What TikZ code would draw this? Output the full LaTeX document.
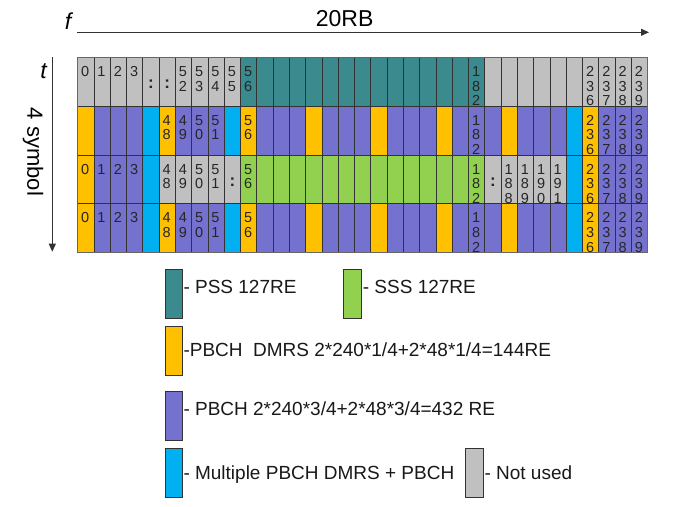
\documentclass[tikz,border=0pt]{standalone}
\usepackage{fontspec}
\setmainfont{Liberation Sans}
\usetikzlibrary{arrows.meta}
\definecolor{cgray}{RGB}{192,192,192}
\definecolor{cteal}{RGB}{58,138,142}
\definecolor{cpurple}{RGB}{117,113,207}
\definecolor{corange}{RGB}{255,192,0}
\definecolor{ccyan}{RGB}{0,176,240}
\definecolor{cgreen}{RGB}{146,208,80}
\newcommand\cellnum[3]{%
  \foreach \d [count=\i from 0] in {#3}
    \node[dig] (d#1-#2-\i) at ({77.7+#1*16.286+3.3},{57.3+#2*48.85+19+\i*14.7}) {\d};}
\newcommand\cellcolon[2]{%
  \node[colondot] (k#1-#2) at ({77.7+(#1+0.5)*16.286},{57.3+#2*48.85+31}) {:};}
\begin{document}
\begin{tikzpicture}[x=1pt,y=-1pt,
  dig/.style={anchor=base west,inner sep=0pt,font=\fontsize{14.5}{14.7}\selectfont,text=black!85},
  colondot/.style={anchor=base,inner sep=0pt,font=\fontsize{17}{17}\selectfont\bfseries,text=black!85},
  cellline/.style={draw=black!80,line width=0.8pt},
  axis/.style={draw=black!80,line width=1pt,-{Triangle[length=8pt,width=7pt]}},
  legbox/.style={draw=black!80,line width=0.8pt,minimum width=17.3pt,minimum height=49pt,inner sep=0pt},
  legtext/.style={anchor=base west,inner sep=0pt,font=\fontsize{19}{19}\selectfont,text=black!90},
  axlabel/.style={inner sep=0pt,font=\fontsize{23}{23}\selectfont\itshape}]
\fill[white] (0,0) rectangle (685,506);
\useasboundingbox (0,0) rectangle (685,506);
% cell fills
\foreach \r/\a/\b/\col in {
  0/0/9/cgray, 0/10/24/cteal, 0/25/34/cgray,
  1/0/0/corange, 1/1/3/cpurple, 1/4/4/ccyan, 1/5/5/corange, 1/6/8/cpurple, 1/9/9/ccyan,
  1/10/10/corange, 1/11/13/cpurple, 1/14/14/corange, 1/15/17/cpurple, 1/18/18/corange,
  1/19/21/cpurple, 1/22/22/corange, 1/23/25/cpurple, 1/26/26/corange, 1/27/29/cpurple,
  1/30/30/ccyan, 1/31/31/corange, 1/32/34/cpurple,
  2/0/0/corange, 2/1/3/cpurple, 2/4/4/ccyan, 2/5/9/cgray, 2/10/24/cgreen, 2/25/29/cgray,
  2/30/30/ccyan, 2/31/31/corange, 2/32/34/cpurple,
  3/0/0/corange, 3/1/3/cpurple, 3/4/4/ccyan, 3/5/5/corange, 3/6/8/cpurple, 3/9/9/ccyan,
  3/10/10/corange, 3/11/13/cpurple, 3/14/14/corange, 3/15/17/cpurple, 3/18/18/corange,
  3/19/21/cpurple, 3/22/22/corange, 3/23/25/cpurple, 3/26/26/corange, 3/27/29/cpurple,
  3/30/30/ccyan, 3/31/31/corange, 3/32/34/cpurple}
  \fill[\col] ({77.7+\a*16.286},{57.3+\r*48.85}) rectangle ({77.7+(\b+1)*16.286},{57.3+(\r+1)*48.85});
% grid lines
\foreach \c in {1,...,34}
  \draw[cellline] ({77.7+\c*16.286},57.3) -- ({77.7+\c*16.286},252.7);
\foreach \r in {1,2,3}
  \draw[cellline] (77.7,{57.3+\r*48.85}) -- (647.7,{57.3+\r*48.85});
\draw[draw=black!60,line width=1.2pt] (77.7,57.3) rectangle (647.7,252.7);
% row 0 labels
\cellnum{0}{0}{0}\cellnum{1}{0}{1}\cellnum{2}{0}{2}\cellnum{3}{0}{3}
\cellcolon{4}{0}\cellcolon{5}{0}
\cellnum{6}{0}{5,2}\cellnum{7}{0}{5,3}\cellnum{8}{0}{5,4}\cellnum{9}{0}{5,5}\cellnum{10}{0}{5,6}
\cellnum{24}{0}{1,8,2}
\cellnum{31}{0}{2,3,6}\cellnum{32}{0}{2,3,7}\cellnum{33}{0}{2,3,8}\cellnum{34}{0}{2,3,9}
% row 1 labels
\cellnum{5}{1}{4,8}\cellnum{6}{1}{4,9}\cellnum{7}{1}{5,0}\cellnum{8}{1}{5,1}\cellnum{10}{1}{5,6}
\cellnum{24}{1}{1,8,2}
\cellnum{31}{1}{2,3,6}\cellnum{32}{1}{2,3,7}\cellnum{33}{1}{2,3,8}\cellnum{34}{1}{2,3,9}
% row 2 labels
\cellnum{0}{2}{0}\cellnum{1}{2}{1}\cellnum{2}{2}{2}\cellnum{3}{2}{3}
\cellnum{5}{2}{4,8}\cellnum{6}{2}{4,9}\cellnum{7}{2}{5,0}\cellnum{8}{2}{5,1}\cellcolon{9}{2}
\cellnum{10}{2}{5,6}\cellnum{24}{2}{1,8,2}\cellcolon{25}{2}
\cellnum{26}{2}{1,8,8}\cellnum{27}{2}{1,8,9}\cellnum{28}{2}{1,9,0}\cellnum{29}{2}{1,9,1}
\cellnum{31}{2}{2,3,6}\cellnum{32}{2}{2,3,7}\cellnum{33}{2}{2,3,8}\cellnum{34}{2}{2,3,9}
% row 3 labels
\cellnum{0}{3}{0}\cellnum{1}{3}{1}\cellnum{2}{3}{2}\cellnum{3}{3}{3}
\cellnum{5}{3}{4,8}\cellnum{6}{3}{4,9}\cellnum{7}{3}{5,0}\cellnum{8}{3}{5,1}\cellnum{10}{3}{5,6}
\cellnum{24}{3}{1,8,2}
\cellnum{31}{3}{2,3,6}\cellnum{32}{3}{2,3,7}\cellnum{33}{3}{2,3,8}\cellnum{34}{3}{2,3,9}
% axes
\coordinate (fs) at (77.3,32.3);
\coordinate (fe) at (649,32.3);
\draw[axis] (fs) -- (fe);
\coordinate (ts) at (52.3,57.3);
\coordinate (te) at (52.3,251.7);
\draw[axis] (ts) -- (te);
\node[axlabel,anchor=base] (f) at (68,29.5) {f};
\node[axlabel,anchor=base] (t) at (43.5,78) {t};
\node[inner sep=0pt,anchor=base,font=\fontsize{23}{23}\selectfont] (rb) at (344.6,26.7) {20RB};
\node[inner sep=0pt,rotate=-90,font=\fontsize{22}{22}\selectfont] (sym) at (33,152) {4 symbol};
% legend
\node[legbox,fill=cteal] (kpss) at (173.7,293.8) {};
\node[legtext] (tpss) at (183.3,293.3) {- PSS 127RE};
\node[legbox,fill=cgreen] (ksss) at (352.5,293.5) {};
\node[legtext] (tsss) at (362.7,293.3) {- SSS 127RE};
\node[legbox,fill=corange] (kdmrs) at (173.7,350.5) {};
\node[legtext] (tdmrs) at (183.3,356.7) {-PBCH\ \ DMRS 2*240*1/4+2*48*1/4=144RE};
\node[legbox,fill=cpurple] (kpbch) at (173.7,416.2) {};
\node[legtext] (tpbch) at (183.3,415.7) {- PBCH 2*240*3/4+2*48*3/4=432 RE};
\node[legbox,fill=ccyan] (kmul) at (173.7,472.8) {};
\node[legtext] (tmul) at (183.3,479) {- Multiple PBCH DMRS + PBCH};
\node[legbox,fill=cgray] (knu) at (474.4,472.5) {};
\node[legtext] (tnu) at (484.3,479) {- Not used};
\end{tikzpicture}
\end{document}
